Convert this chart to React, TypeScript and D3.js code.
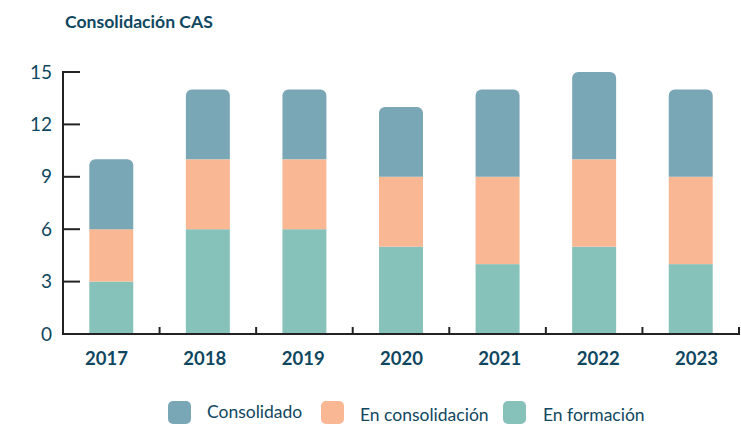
import React from "react";
import * as d3 from "d3";

const years = ["2017", "2018", "2019", "2020", "2021", "2022", "2023"];
const enFormacion = [3, 6, 6, 5, 4, 5, 4];
const enConsolidacion = [3, 4, 4, 4, 5, 5, 5];
const consolidado = [4, 4, 4, 4, 5, 5, 5];
const yTicks = [0, 3, 6, 9, 12, 15];
const seriesNames = ["En formación", "En consolidación", "Consolidado"];
const colors = ["#87c2ba", "#f9b893", "#79a7b6"];
const legendOrder = [2, 1, 0];

const W = 741, H = 424;
const left = 63, right = 739, top = 72, bottom = 334;
const textColor = "#0f4761";
const font = "Lato, 'Open Sans', sans-serif";

function roundTopRect(x: number, y: number, w: number, h: number, r: number) {
  const p = d3.path();
  p.moveTo(x, y + h);
  p.lineTo(x, y + r);
  p.arcTo(x, y, x + r, y, r);
  p.lineTo(x + w - r, y);
  p.arcTo(x + w, y, x + w, y + r, r);
  p.lineTo(x + w, y + h);
  p.closePath();
  return p.toString();
}

export default function App() {
  const x = d3.scaleBand().domain(years).range([left, right]).paddingInner(0.545).paddingOuter(0.27);
  const band = d3.scaleBand().domain(years).range([left, right]);
  const labelX = d3.scalePoint().domain(years).range([106.5, 696.5]);
  const y = d3.scaleLinear().domain([0, 15]).range([bottom, top]);
  const data = years.map((yr, i) => ({ yr, v: [enFormacion[i], enConsolidacion[i], consolidado[i]] }));
  const stack = d3.stack<any>().keys(["0", "1", "2"]).value((d, k) => d.v[+k]);
  const stacked = stack(data);
  const bw = x.bandwidth();
  const legendX = [168, 321, 503];
  const legendTextX = [207, 360, 543];

  return (
    <svg width={W} height={H} style={{ position: "absolute", left: 0, top: 0 }}>
      <text x={65} y={28} fontFamily={font} fontWeight={700} fontSize={17.6} fill={textColor}>
        Consolidación CAS
      </text>
      {stacked.map((layer, si) =>
        layer.map((d, i) => {
          const x0 = band(years[i])! + band.bandwidth() / 2 - bw / 2;
          const y0 = y(d[1]);
          const h = y(d[0]) - y(d[1]);
          if (si === 2) {
            return <path key={si + "-" + i} d={roundTopRect(x0, y0, bw, h, 6)} fill={colors[si]} />;
          }
          return <rect key={si + "-" + i} x={x0} y={y0} width={bw} height={h} fill={colors[si]} />;
        })
      )}
      {/* y axis */}
      <line x1={left} x2={left} y1={top - 1} y2={bottom + 1} stroke="#222" strokeWidth={2} />
      {yTicks.map((t) => (
        <g key={t}>
          <line x1={left} x2={80} y1={y(t)} y2={y(t)} stroke="#222" strokeWidth={2} />
          <text x={52} y={y(t) + 6.5} textAnchor="end" fontFamily={font} fontSize={19} fill={textColor}>
            {t}
          </text>
        </g>
      ))}
      {/* x axis */}
      <line x1={left - 1} x2={right + 1} y1={bottom} y2={bottom} stroke="#222" strokeWidth={2} />
      {years.map((yr, i) =>
        i > 0 ? (
          <line key={"t" + yr} x1={band(yr)!} x2={band(yr)!} y1={bottom} y2={bottom - 7} stroke="#222" strokeWidth={2} />
        ) : null
      )}
      <line x1={right} x2={right} y1={bottom} y2={bottom - 7} stroke="#222" strokeWidth={2} />
      {years.map((yr) => (
        <text key={yr} x={labelX(yr)!} y={364.5} textAnchor="middle" fontFamily={font} fontWeight={700} fontSize={18.5} fill={textColor}>
          {yr}
        </text>
      ))}
      {/* legend */}
      {legendOrder.map((si, j) => (
        <g key={"l" + si}>
          <rect x={legendX[j]} y={401} width={23} height={23} rx={5} fill={colors[si]} />
          <text x={legendTextX[j]} y={j === 0 ? 418 : 421} fontFamily={font} fontSize={17.5} fill={textColor}>
            {seriesNames[si]}
          </text>
        </g>
      ))}
    </svg>
  );
}
